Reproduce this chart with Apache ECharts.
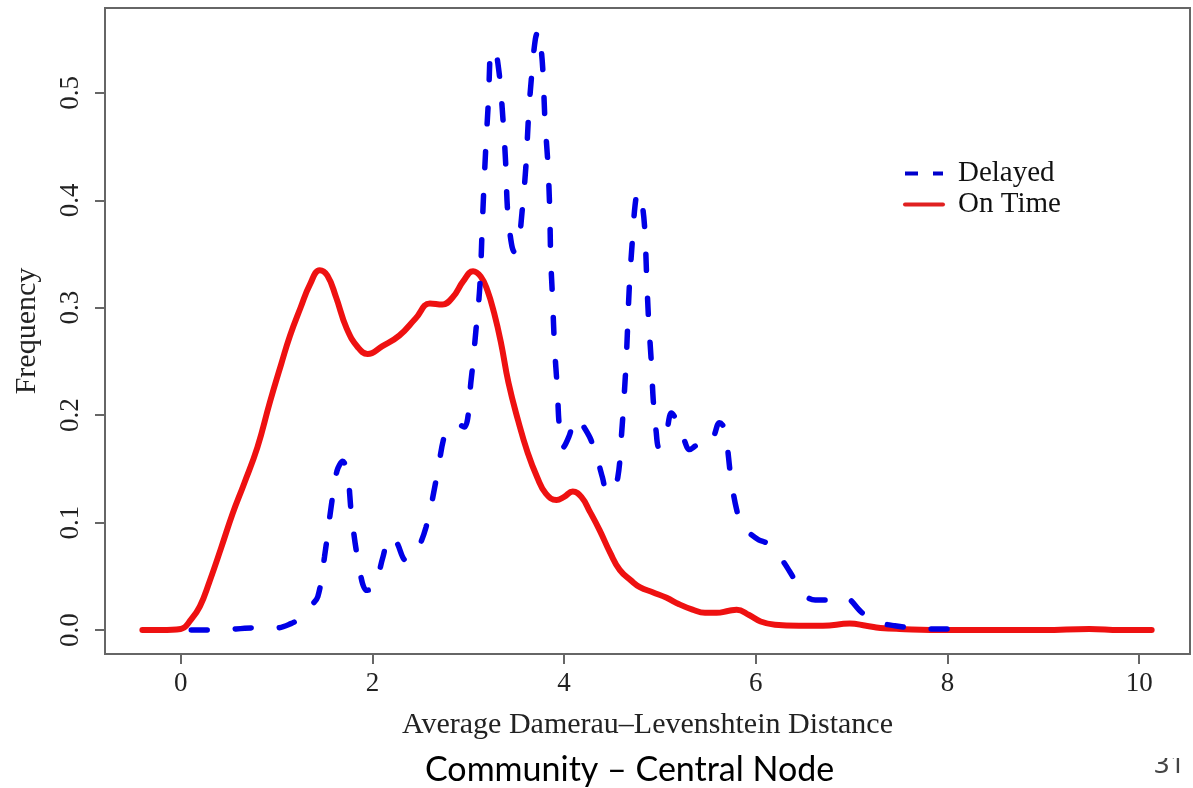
<!DOCTYPE html>
<html>
<head>
<meta charset="utf-8">
<script src="https://cdn.jsdelivr.net/npm/echarts@6/dist/echarts.min.js"></script>
<style>
html,body{margin:0;padding:0;background:#fff;}
#c{width:1193px;height:788px;}
</style>
</head>
<body>
<div id="c"></div>
<script>
// ---- data ----
const onTimeX = [-0.40,-0.20,0.00,0.11,0.20,0.30,0.42,0.54,0.66,0.80,0.93,1.05,1.14,1.25,1.35,1.45,1.53,1.62,1.73,1.85,1.95,2.10,2.28,2.45,2.60,2.73,2.84,2.95,3.05,3.13,3.20,3.27,3.34,3.42,3.52,3.62,3.72,3.81,3.92,4.00,4.09,4.18,4.27,4.37,4.48,4.58,4.70,4.79,4.93,5.07,5.20,5.34,5.47,5.59,5.72,5.80,5.93,6.05,6.20,6.45,6.70,6.98,7.15,7.30,7.50,8.00,9.00,9.48,9.80,10.13];
const onTimeY = [0,0,0.001,0.010,0.022,0.045,0.076,0.108,0.136,0.170,0.212,0.248,0.274,0.300,0.322,0.335,0.330,0.310,0.281,0.263,0.257,0.264,0.274,0.290,0.304,0.303,0.310,0.325,0.334,0.329,0.316,0.295,0.268,0.230,0.195,0.165,0.142,0.127,0.121,0.124,0.129,0.124,0.110,0.093,0.072,0.056,0.046,0.040,0.035,0.030,0.024,0.019,0.016,0.016,0.018,0.019,0.014,0.008,0.005,0.004,0.004,0.006,0.004,0.002,0.001,0,0,0.001,0,0];

const delayedX = [0.11,0.40,0.75,1.00,1.15,1.24,1.35,1.43,1.50,1.57,1.63,1.69,1.74,1.78,1.85,1.94,2.02,2.11,2.18,2.25,2.35,2.44,2.56,2.67,2.77,2.87,2.96,3.03,3.08,3.12,3.15,3.18,3.21,3.24,3.27,3.32,3.36,3.39,3.41,3.45,3.48,3.53,3.56,3.60,3.63,3.66,3.70,3.73,3.76,3.78,3.80,3.83,3.85,3.86,3.88,3.90,3.93,3.95,3.99,4.05,4.11,4.15,4.20,4.28,4.36,4.40,4.45,4.50,4.56,4.60,4.63,4.65,4.68,4.71,4.74,4.77,4.81,4.84,4.86,4.88,4.91,4.93,4.96,4.99,5.05,5.12,5.17,5.24,5.31,5.38,5.43,5.50,5.56,5.62,5.66,5.69,5.74,5.80,5.86,5.95,6.03,6.11,6.25,6.35,6.45,6.53,6.62,6.72,6.85,6.95,7.11,7.29,7.45,7.74,8.00,8.21];
const delayedY = [0,0,0.002,0.002,0.006,0.011,0.022,0.031,0.068,0.115,0.148,0.157,0.146,0.109,0.065,0.037,0.040,0.068,0.087,0.082,0.065,0.070,0.096,0.142,0.186,0.192,0.189,0.233,0.279,0.319,0.385,0.444,0.492,0.540,0.540,0.520,0.478,0.435,0.391,0.360,0.352,0.365,0.388,0.430,0.480,0.515,0.550,0.558,0.541,0.518,0.475,0.435,0.391,0.347,0.307,0.264,0.223,0.190,0.170,0.180,0.196,0.197,0.190,0.177,0.155,0.142,0.128,0.130,0.142,0.183,0.223,0.255,0.319,0.360,0.395,0.408,0.398,0.375,0.332,0.291,0.249,0.214,0.185,0.170,0.175,0.202,0.196,0.180,0.168,0.172,0.174,0.172,0.180,0.193,0.190,0.180,0.142,0.112,0.096,0.089,0.084,0.081,0.068,0.055,0.040,0.031,0.028,0.028,0.031,0.030,0.016,0.007,0.004,0.001,0.001,0];

const xTicks = [0,2,4,6,8,10];
const yTicks = [0,0.1,0.2,0.3,0.4,0.5];
const seriesNames = ['Delayed','On Time'];
const xTitle = 'Average Damerau\u2013Levenshtein Distance';
const yTitle = 'Frequency';
const caption = 'Community \u2013 Central Node';
const pageNum = '31';

// ---- chart ----
const zip = (xs, ys) => xs.map((x, i) => [x, ys[i]]);
const serif = 'Liberation Serif';
const BLUE = '#0000e6', RED = '#ee1111';
const chart = echarts.init(document.getElementById('c'), null, {renderer: 'canvas'});
chart.setOption({
  animation: false,
  backgroundColor: '#fff',
  grid: {left: 105, right: 3, top: 8, bottom: 134, show: true, borderColor: '#666', borderWidth: 2, containLabel: false},
  xAxis: {
    type: 'value', min: -0.79, max: 10.53,
    axisLine: {show: false, onZero: false},
    splitLine: {show: false},
    axisTick: {show: true, customValues: xTicks, length: 10, lineStyle: {color: '#666', width: 2}},
    axisLabel: {customValues: xTicks, margin: 16, fontFamily: serif, fontSize: 27, color: '#222'},
    name: xTitle, nameLocation: 'middle', nameGap: 56,
    nameTextStyle: {fontFamily: serif, fontSize: 30, color: '#222'}
  },
  yAxis: {
    type: 'value', min: -0.0223, max: 0.579,
    axisLine: {show: false, onZero: false},
    splitLine: {show: false},
    axisTick: {show: true, customValues: yTicks, length: 10, lineStyle: {color: '#666', width: 2}},
    axisLabel: {customValues: yTicks, rotate: 90, margin: 21, fontFamily: serif, fontSize: 27, color: '#222',
      formatter: v => v.toFixed(1)},
    name: yTitle, nameLocation: 'middle', nameGap: 63,
    nameTextStyle: {fontFamily: serif, fontSize: 30, color: '#222'}
  },
  legend: {
    orient: 'vertical', left: 898, top: 154, itemWidth: 38, itemHeight: 14, itemGap: 2,
    textStyle: {fontFamily: serif, fontSize: 29, color: '#111', padding: [0, 0, 0, 10]},
    data: [
      {name: seriesNames[0], itemStyle: {opacity: 0}, lineStyle: {type: [13, 15], width: 4, cap: 'butt', color: '#0000cc'}},
      {name: seriesNames[1], itemStyle: {opacity: 0}, lineStyle: {width: 4, color: '#e02020'}}
    ]
  },
  series: [
    {
      name: seriesNames[0], type: 'line', data: zip(delayedX, delayedY),
      smooth: 0.35, symbol: 'none', z: 3,
      lineStyle: {color: BLUE, width: 5.5, type: [16, 28], cap: 'round'},
      itemStyle: {color: BLUE}
    },
    {
      name: seriesNames[1], type: 'line', data: zip(onTimeX, onTimeY),
      smooth: 0.45, symbol: 'none', z: 2,
      lineStyle: {color: RED, width: 6, cap: 'round', join: 'round'},
      itemStyle: {color: RED}
    }
  ],
  graphic: [
    {type: 'text', left: 425, top: 753,
      style: {text: caption, fontFamily: 'Lato', fontSize: 34, fill: '#000'}},
    {type: 'text', left: 1154, top: 752,
      style: {text: pageNum, fontFamily: 'Noto Sans', fontSize: 27, fill: '#444'}},
    {type: 'rect', shape: {x: 1140, y: 740, width: 53, height: 18}, style: {fill: '#fff'}, z: 100}
  ]
});
</script>
</body>
</html>
